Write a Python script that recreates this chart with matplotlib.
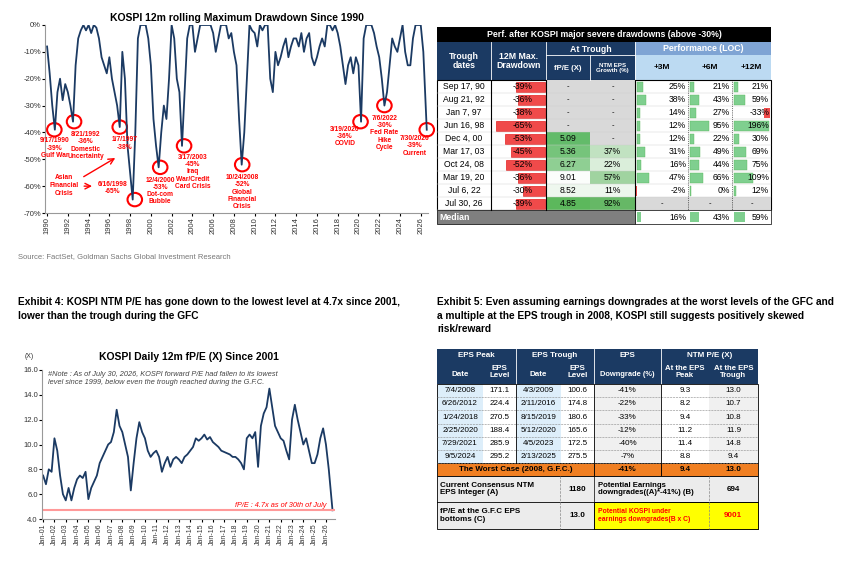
import matplotlib
matplotlib.use("Agg")
import matplotlib.pyplot as plt
import numpy as np
from matplotlib.patches import Rectangle, Ellipse

plt.rcParams['font.family'] = ['Liberation Sans', 'DejaVu Sans']

# ---------------- data ----------------
dd_start = 1990.0
dd_values = [-8,-18,-30,-39, -25,-20,-28,-22, -25,-30,-36,-15, -5,-2,0,-2, 0,-3,0,-1,
             -5,-12,-15,-18, -12,-20,-25,-30, -38,-10,-20,-45, -55,-65,-40,-5, 0,0,0,-5,
             -15,-35,-45,-53, -40,-30,-35,-20, 0,-5,-20,-25, -45,-25,-5,0, 0,-10,-5,0,
             0,0,0,0, -3,-10,-5,0, 0,0,-5,-3, -10,-15,-35,-52, -40,-20,0,-2, -3,-8,0,-2,
             0,0,-20,-25, -10,-15,-12,-8, -5,-12,-8,-5, -5,-8,-3,-10, -5,-3,-12,-15,
             -12,-8,-5,-8, 0,0,-2,0, -3,-8,-15,-22, -15,-12,-18,-12, -15,-36,-5,0,
             0,0,-3,-8, -12,-20,-30,-25, -15,-5,-8,-10, -5,0,-10,-15, -15,-5,0,0, 0,-10,-39]

pe_start = 2001.0
pe_values = [7.5,6.8,8.0,7.8, 10.5,9.5,7.5,6.0, 5.5,6.5,5.5,6.5, 7.2,7.5,7.3,7.8, 5.6,6.5,7.0,7.5,
             8.5,9.0,9.5,10.0, 10.2,11.0,12.8,11.5, 11.0,10.0,9.0,6.3, 8.5,10.5,11.8,11.0,
             10.5,9.5,9.0,9.3, 9.5,9.0,7.8,8.5, 9.0,8.2,8.8,9.0, 8.8,8.5,9.0,9.2,
             9.5,9.8,10.5,10.3, 10.5,10.8,10.4,10.6, 10.2,10.0,9.8,9.5, 9.4,9.3,9.2,9.0,
             9.0,8.8,8.5,8.0, 10.5,10.8,10.5,11.0, 8.2,11.5,12.5,13.0, 14.5,13.0,11.5,11.0,
             10.5,10.3,9.5,8.8, 12.0,13.2,12.0,11.0, 10.0,10.5,9.5,8.5, 8.5,9.2,10.5,11.3,
             10.0,8.0,4.7]

# annotations: (x, y, label, label_x, label_y)
dd_events = [(1990.7, -39, "9/17/1990\n-39%\nGulf War", 1990.7, -41.8),
             (1992.6, -36, "8/21/1992\n-36%\nDomestic\nUncertainty", 1993.7, -39.5),
             (1997.0, -38, "1/7/1997\n-38%", 1997.5, -41.5),
             (1998.45, -65, "6/16/1998\n-65%", 1996.3, -58),
             (2000.9, -53, "12/4/2000\n-53%\nDot-com\nBubble", 2000.9, -56.5),
             (2003.2, -45, "3/17/2003\n-45%\nIraq\nWar/Credit\nCard Crisis", 2004.0, -48),
             (2008.8, -52, "10/24/2008\n-52%\nGlobal\nFinancial\nCrisis", 2008.8, -55.5),
             (2020.2, -36, "3/19/2020\n-36%\nCOVID", 2018.7, -37.5),
             (2022.5, -30, "7/6/2022\n-30%\nFed Rate\nHike\nCycle", 2022.5, -33.5),
             (2026.58, -39, "7/30/2026\n-39%\nCurrent", 2025.4, -41)]

t1_dates = ["Sep 17, 90","Aug 21, 92","Jan 7, 97","Jun 16, 98","Dec 4, 00","Mar 17, 03",
            "Oct 24, 08","Mar 19, 20","Jul 6, 22","Jul 30, 26"]
t1_dd = [-39,-36,-38,-65,-53,-45,-52,-36,-30,-39]
t1_pe = [None,None,None,None,5.09,5.36,6.27,9.01,8.52,4.85]
t1_eps = [None,None,None,None,None,37,22,57,11,92]
t1_3m = [25,38,14,12,12,31,16,47,-2,None]
t1_6m = [21,43,27,95,22,49,44,66,0,None]
t1_12m = [21,59,-33,196,30,69,75,109,12,None]
t1_median = [16,43,59]

t2_peak_date = ["7/4/2008","6/26/2012","1/24/2018","2/25/2020","7/29/2021","9/5/2024"]
t2_peak_eps = [171.1,224.4,270.5,188.4,285.9,295.2]
t2_tr_date = ["4/3/2009","2/11/2016","8/15/2019","5/12/2020","4/5/2023","2/13/2025"]
t2_tr_eps = [100.6,174.8,180.6,165.6,172.5,275.5]
t2_down = [-41,-22,-33,-12,-40,-7]
t2_pe_peak = [9.3,8.2,9.4,11.2,11.4,8.8]
t2_pe_tr = [13.0,10.7,10.8,11.9,14.8,9.4]

W, H = 854, 561
fig = plt.figure(figsize=(W/100, H/100), dpi=100)

def rect_ax(x0, y0, x1, y1):
    return [x0/W, 1-y1/H, (x1-x0)/W, (y1-y0)/H]

NAVY = '#1b3a63'

# ---------------- chart 1 ----------------
ax1 = fig.add_axes(rect_ax(45, 25, 428, 213))
xs = dd_start + np.arange(len(dd_values))*0.25
xs[-1] = 2026.58
ax1.plot(xs, dd_values, color=NAVY, lw=1.3)
ax1.set_xlim(1989.8, 2026.7)
ax1.set_ylim(-70, 0)
ax1.set_yticks(range(-70, 1, 10))
ax1.set_yticklabels([f"{v}%" for v in range(-70, 1, 10)], fontsize=5.5, color='#333333')
ax1.set_xticks(range(1990, 2027, 2))
ax1.set_xticklabels([str(v) for v in range(1990, 2027, 2)], rotation=90, fontsize=5.5, color='#333333')
for s in ['top', 'right']:
    ax1.spines[s].set_visible(False)
ax1.spines['left'].set_color('#999999'); ax1.spines['bottom'].set_color('#999999')
ax1.tick_params(length=2, pad=1)
ax1.set_title("KOSPI 12m rolling Maximum Drawdown Since 1990", fontsize=7.5, fontweight='bold', pad=3)
for (x, y, lab, lx, ly) in dd_events:
    ax1.add_patch(Ellipse((x, y), 1.4, 5.0, fill=False, ec='red', lw=1.5, clip_on=False))
    ax1.text(lx, ly, lab, color='red', fontsize=4.8, ha='center', va='top', fontweight='bold', linespacing=1.05)
ax1.text(1991.6, -55.5, "Asian\nFinancial\nCrisis", color='red', fontsize=4.8, ha='center', va='top', fontweight='bold')
ax1.annotate("", xy=(1994.6, -60), xytext=(1993.3, -60), arrowprops=dict(arrowstyle='->', color='red', lw=1))
ax1.annotate("", xy=(1996.8, -49), xytext=(1993.3, -57), arrowprops=dict(arrowstyle='->', color='red', lw=1))
fig.text(18/W, 1-257/H, "Source: FactSet, Goldman Sachs Global Investment Research", fontsize=5.5, color='#777777', va='center')

# ---------------- chart 2 ----------------
ax2 = fig.add_axes(rect_ax(42, 370, 335, 519))
px = pe_start + np.arange(len(pe_values))*0.25
px[-1] = 2026.58
ax2.plot(px, pe_values, color=NAVY, lw=1.3)
ax2.axhline(4.7, color='#ff9999', lw=1.5)
ax2.set_ylim(4, 16)
ax2.set_xlim(2000.9, 2026.8)
ax2.set_yticks(range(4, 17, 2))
ax2.set_yticklabels([f"{v:.1f}" for v in range(4, 17, 2)], fontsize=5.5, color='#333333')
ax2.set_xticks(range(2001, 2027))
ax2.set_xticklabels([f"Jan-{y%100:02d}" for y in range(2001, 2027)], rotation=90, fontsize=5, color='#333333')
for s in ['top', 'right']:
    ax2.spines[s].set_visible(False)
ax2.spines['left'].set_color('#999999'); ax2.spines['bottom'].set_color('#999999')
ax2.tick_params(length=2, pad=1)
ax2.set_title("KOSPI Daily 12m fP/E (X) Since 2001", fontsize=7.5, fontweight='bold', pad=7)
ax2.text(-0.06, 1.08, "(X)", transform=ax2.transAxes, fontsize=5, color='#333333')
ax2.text(0.02, 0.995, "#Note : As of July 30, 2026, KOSPI forward P/E had fallen to its lowest\nlevel since 1999, below even the trough reached during the G.F.C.",
         transform=ax2.transAxes, fontsize=5.3, style='italic', color='#444444', va='top')
ax2.text(0.97, 0.07, "fP/E : 4.7x as of 30th of July", transform=ax2.transAxes, fontsize=5.3,
         style='italic', color='red', ha='right', va='bottom')

# exhibit titles
fig.text(18/W, 1-297/H, "Exhibit 4: KOSPI NTM P/E has gone down to the lowest level at 4.7x since 2001,\nlower than the trough during the GFC",
         fontsize=7.3, fontweight='bold', va='top', linespacing=1.45)
fig.text(437/W, 1-297/H, "Exhibit 5: Even assuming earnings downgrades at the worst levels of the GFC and\na multiple at the EPS trough in 2008, KOSPI still suggests positively skewed\nrisk/reward",
         fontsize=7.3, fontweight='bold', va='top', linespacing=1.45)

# ---------------- tables in pixel axes ----------------
axt = fig.add_axes([0, 0, 1, 1])
axt.set_xlim(0, W); axt.set_ylim(H, 0); axt.axis('off')

def box(x0, y0, x1, y1, fc, ec='none', lw=0.5):
    axt.add_patch(Rectangle((x0, y0), x1-x0, y1-y0, fc=fc, ec=ec, lw=lw))

def txt(x, y, s, size=5.5, color='black', ha='center', bold=False):
    axt.text(x, y, s, fontsize=size, color=color, ha=ha, va='center', fontweight='bold' if bold else 'normal', linespacing=1.1)

# table 1
c = [437, 491, 546, 590, 635, 688, 732, 771]
box(c[0], 27, c[-1], 42, 'black')
txt((c[0]+c[-1])/2, 34.5, "Perf. after KOSPI major severe drawdowns (above -30%)", 6.3, 'white', bold=True)
box(c[0], 42, c[4], 80, NAVY)
box(c[4], 42, c[-1], 55, '#7fa4d4')
box(c[4], 55, c[-1], 80, '#bcdaf2')
txt((c[0]+c[1])/2, 61, "Trough\ndates", 6.3, 'white', bold=True)
txt((c[1]+c[2])/2, 61, "12M Max.\nDrawdown", 6.3, 'white', bold=True)
txt((c[2]+c[4])/2, 49, "At Trough", 6.3, 'white', bold=True)
txt((c[2]+c[3])/2, 68, "fP/E (X)", 5.6, 'white', bold=True)
txt((c[3]+c[4])/2, 68, "NTM EPS\nGrowth (%)", 4.4, 'white', bold=True)
txt((c[4]+c[-1])/2, 48.5, "Performance (LOC)", 6.3, 'white', bold=True)
for i, lab in enumerate(["+3M", "+6M", "+12M"]):
    txt((c[4+i]+c[5+i])/2, 67.5, lab, 6, 'black', bold=True)
for x in [c[1], c[2], c[4]]:
    axt.plot([x, x], [42, 80], color='white', lw=0.6)
axt.plot([c[3], c[3]], [55, 80], color='white', lw=0.6)
axt.plot([c[2], c[4]], [55, 55], color='white', lw=0.6)

rh = 13.0
y0 = 80
box(c[0], y0, c[-1], y0+10*rh, 'white', ec='black', lw=0.8)
greens = {4.85: '#5cb85c', 5.09: '#63bb6a', 5.36: '#76c47b', 6.27: '#8fcf93', 8.52: '#eef7ee', 9.01: '#fbfdfb'}
for i in range(10):
    yt = y0 + i*rh; ym = yt + rh/2
    txt((c[0]+c[1])/2, ym, t1_dates[i], 6.2)
    L = (c[2]-c[1]-2) * abs(t1_dd[i]) / 65 * 0.95
    box(c[2]-L, yt+1.5, c[2]-1, yt+rh-1.5, '#f04a4a', ec='#e00000', lw=0.4)
    txt((c[1]+c[2])/2+4, ym, f"{t1_dd[i]}%", 6.2)
    if t1_pe[i] is None:
        box(c[2], yt, c[3], yt+rh, '#d9d9d9'); txt((c[2]+c[3])/2, ym, "-", 5.5)
    else:
        box(c[2], yt, c[3], yt+rh, greens.get(t1_pe[i], '#ffffff')); txt((c[2]+c[3])/2, ym, f"{t1_pe[i]:.2f}", 6.2)
    if t1_eps[i] is None:
        box(c[3], yt, c[4], yt+rh, '#d9d9d9'); txt((c[3]+c[4])/2, ym, "-", 5.5)
    else:
        g = t1_eps[i]/92
        col = (1-0.6*g, 1-0.28*g, 1-0.6*g)
        box(c[3], yt, c[4], yt+rh, col); txt((c[3]+c[4])/2, ym, f"{t1_eps[i]}%", 6.2)
    for j, arr in enumerate([t1_3m, t1_6m, t1_12m]):
        xl, xr = c[4+j], c[5+j]
        v = arr[i]
        if v is None:
            box(xl, yt, xr, yt+rh, '#d9d9d9'); txt((xl+xr)/2, ym, "-", 5.5)
            continue
        L = (xr-xl-4) * abs(v) / 196
        if v >= 0:
            box(xl+2, yt+1.5, xl+2+max(L, 1.5), yt+rh-1.5, '#7fcf8f', ec='#5cb85c', lw=0.3)
        else:
            if j == 0:
                box(xl+1, yt+1.5, xl+2, yt+rh-1.5, '#f04a4a')
            else:
                box(xr-1-L, yt+1.5, xr-1, yt+rh-1.5, '#f04a4a')
        txt(xr-2, ym, f"{v}%", 6.2, ha='right')
    axt.plot([c[0], c[-1]], [yt+rh, yt+rh], color='#cccccc', lw=0.3)
for x in [c[1], c[2], c[4]]:
    axt.plot([x, x], [y0, y0+10*rh], color='black', lw=0.8)
for x in [c[5], c[6]]:
    axt.plot([x, x], [y0, y0+10*rh], color='black', lw=0.5, ls=':')
ym0 = y0+10*rh
box(c[0], ym0, c[4], ym0+14, '#7f7f7f', ec='black', lw=0.5)
txt(c[0]+2, ym0+7, "Median", 6.3, 'white', ha='left', bold=True)
box(c[4], ym0, c[-1], ym0+14, 'white', ec='black', lw=0.5)
for j, v in enumerate(t1_median):
    xl, xr = c[4+j], c[5+j]
    L = (xr-xl-4) * v / 196
    box(xl+2, ym0+2, xl+2+L, ym0+12, '#7fcf8f')
    txt(xr-2, ym0+7, f"{v}%", 6.2, ha='right')

# table 2
d = [437, 483, 516, 561, 594, 661, 709, 758]
box(d[0], 349, d[-1], 384, NAVY)
hc = 'white'
txt((d[0]+d[2])/2, 355, "EPS Peak", 5.8, hc, bold=True)
txt((d[2]+d[4])/2, 355, "EPS Trough", 5.8, hc, bold=True)
txt((d[4]+d[5])/2, 355, "EPS", 5.8, hc, bold=True)
txt((d[5]+d[7])/2, 355, "NTM P/E (X)", 5.8, hc, bold=True)
txt((d[0]+d[1])/2, 374, "Date", 5.8, hc, bold=True)
txt((d[1]+d[2])/2, 372, "EPS\nLevel", 5.8, hc, bold=True)
txt((d[2]+d[3])/2, 374, "Date", 5.8, hc, bold=True)
txt((d[3]+d[4])/2, 372, "EPS\nLevel", 5.8, hc, bold=True)
txt((d[4]+d[5])/2, 374, "Downgrade (%)", 5.4, hc, bold=True)
txt((d[5]+d[6])/2, 372, "At the EPS\nPeak", 5.6, hc, bold=True)
txt((d[6]+d[7])/2, 372, "At the EPS\nTrough", 5.6, hc, bold=True)
for x in [d[2], d[4], d[5]]:
    axt.plot([x, x], [349, 384], color='white', lw=0.6)
rh2 = 13.2
for i in range(6):
    yt = 384 + i*rh2; ym = yt + rh2/2
    fills = ['#ddeefa', 'white', '#ddeefa', 'white', '#f0f0f0', 'white', '#f0f0f0']
    for k in range(7):
        box(d[k], yt, d[k+1], yt+rh2, fills[k])
    vals = [t2_peak_date[i], f"{t2_peak_eps[i]:.1f}", t2_tr_date[i], f"{t2_tr_eps[i]:.1f}",
            f"{t2_down[i]}%", f"{t2_pe_peak[i]:.1f}", f"{t2_pe_tr[i]:.1f}"]
    for k, v in enumerate(vals):
        txt((d[k]+d[k+1])/2, ym, v, 5.8)
    axt.plot([d[0], d[-1]], [yt+rh2, yt+rh2], color='#888888', lw=0.4, ls='--')
box(d[0], 384, d[-1], 384+6*rh2, 'none', ec='black', lw=0.6)
for x in [d[2], d[4], d[5]]:
    axt.plot([x, x], [384, 384+6*rh2], color='black', lw=0.6)
yw = 384 + 6*rh2
box(d[0], yw, d[4], yw+13, '#f07f22', ec='black', lw=0.6)
box(d[4], yw, d[5], yw+13, '#f07f22', ec='black', lw=0.6)
box(d[5], yw, d[7], yw+13, '#f07f22', ec='black', lw=0.6)
txt((d[0]+d[4])/2, yw+6.5, "The Worst Case (2008, G.F.C.)", 5.8, bold=True)
txt((d[4]+d[5])/2, yw+6.5, "-41%", 5.8, bold=True)
txt((d[5]+d[6])/2, yw+6.5, "9.4", 5.8, bold=True)
txt((d[6]+d[7])/2, yw+6.5, "13.0", 5.8, bold=True)
ya = yw + 13; yb = ya + 26; yc = yb + 27
box(d[0], ya, d[-1], yc, '#ececec', ec='black', lw=0.6)
box(d[4], yb, d[-1], yc, '#ffff00', ec='black', lw=0.6)
axt.plot([d[0], d[-1]], [yb, yb], color='black', lw=0.6)
for x in [560, 709]:
    axt.plot([x, x], [ya, yc], color='#888888', lw=0.5, ls='--')
axt.plot([594, 594], [ya, yc], color='black', lw=0.5)
txt(440, (ya+yb)/2, "Current Consensus NTM\nEPS Integer (A)", 5.8, ha='left', bold=True)
txt(577, (ya+yb)/2, "1180", 5.8, bold=True)
txt(598, (ya+yb)/2, "Potential Earnings\ndowngrades((A)*-41%) (B)", 5.6, ha='left', bold=True)
txt(733, (ya+yb)/2, "694", 5.8, bold=True)
txt(440, (yb+yc)/2, "fP/E at the G.F.C EPS\nbottoms (C)", 5.8, ha='left', bold=True)
txt(577, (yb+yc)/2, "13.0", 5.8, bold=True)
txt(598, (yb+yc)/2, "Potential KOSPI under\nearnings downgrades(B x C)", 4.9, 'red', ha='left', bold=True)
txt(733, (yb+yc)/2, "9001", 5.8, 'red', bold=True)

fig.savefig("out.png", dpi=100)
